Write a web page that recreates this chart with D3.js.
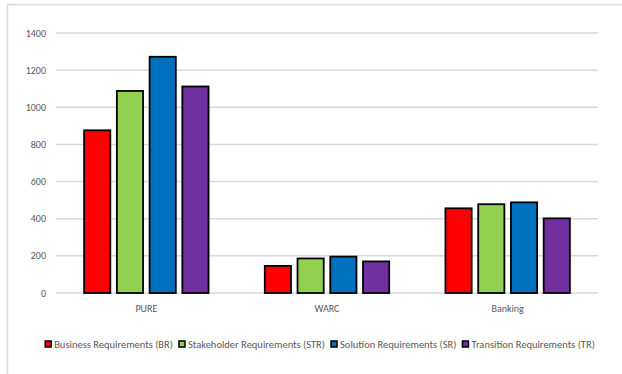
<!DOCTYPE html>
<html>
<head>
<meta charset="utf-8">
<script src="https://cdn.jsdelivr.net/npm/d3@7"></script>
<style>
  body { margin: 0; background: #fff; }
  text { font-family: Calibri, Carlito, "Liberation Sans", Arial, sans-serif; fill: #595959; }
</style>
</head>
<body>
<div id="chart"></div>
<script>
var categories = ["PURE", "WARC", "Banking"];
var seriesNames = ["Business Requirements (BR)", "Stakeholder Requirements (STR)", "Solution Requirements (SR)", "Transition Requirements (TR)"];
var seriesColors = ["#ff0000", "#92d050", "#0070c0", "#7030a0"];
var brValues = [876, 146, 456];
var strValues = [1088, 186, 478];
var srValues = [1272, 196, 488];
var trValues = [1112, 170, 402];
var yTicks = [0, 200, 400, 600, 800, 1000, 1200, 1400];

var allValues = [brValues, strValues, srValues, trValues];

var width = 622, height = 374;
var plotLeft = 56, plotRight = 598, plotTop = 33, plotBottom = 293;

var svg = d3.select("#chart").append("svg")
  .attr("width", width)
  .attr("height", height);

// chart area border (top + left only visible)
svg.append("line").attr("x1", 7).attr("x2", width).attr("y1", 4.5).attr("y2", 4.5)
  .attr("stroke", "#d9d9d9").attr("stroke-width", 1.5);
svg.append("line").attr("x1", 7.5).attr("x2", 7.5).attr("y1", 4).attr("y2", height)
  .attr("stroke", "#d9d9d9").attr("stroke-width", 1.5);

var y = d3.scaleLinear().domain([0, 1400]).range([plotBottom, plotTop]);

var x0 = d3.scaleBand().domain(categories).range([plotLeft, plotRight])
  .paddingInner(0.275).paddingOuter(0.1375);
var x1 = d3.scaleBand().domain(d3.range(seriesNames.length)).range([0, x0.bandwidth()])
  .paddingInner(0.2).paddingOuter(0.1);

// gridlines
svg.append("g").selectAll("line").data(yTicks).enter().append("line")
  .attr("x1", plotLeft).attr("x2", plotRight)
  .attr("y1", d => y(d)).attr("y2", d => y(d))
  .attr("stroke", "#d9d9d9").attr("stroke-width", 1.5);

// y labels
svg.append("g").selectAll("text").data(yTicks).enter().append("text")
  .attr("x", 46).attr("y", d => y(d)).attr("dy", "0.35em")
  .attr("text-anchor", "end").style("font-size", "10px")
  .text(d => d);

// bars
var groups = svg.append("g").selectAll("g").data(categories).enter().append("g")
  .attr("transform", d => "translate(" + x0(d) + ",0)");

groups.selectAll("rect")
  .data((c, ci) => allValues.map((vals, si) => ({ s: si, v: vals[ci] })))
  .enter().append("rect")
  .attr("x", d => x1(d.s))
  .attr("y", d => y(d.v))
  .attr("width", x1.bandwidth())
  .attr("height", d => y(0) - y(d.v))
  .attr("fill", d => seriesColors[d.s])
  .attr("stroke", "#000").attr("stroke-width", 1.8);

// category labels
svg.append("g").selectAll("text").data(categories).enter().append("text")
  .attr("x", d => x0(d) + x0.bandwidth() / 2).attr("y", 308).attr("dy", "0.35em")
  .attr("text-anchor", "middle").style("font-size", "10px")
  .text(d => d);

// legend
var legend = svg.append("g");
var items = legend.selectAll("g").data(seriesNames).enter().append("g");
items.append("rect")
  .attr("width", 6).attr("height", 6).attr("y", -3)
  .attr("fill", (d, i) => seriesColors[i])
  .attr("stroke", "#000").attr("stroke-width", 1.5);
items.append("text")
  .attr("x", 9).attr("dy", "0.35em").style("font-size", "10.5px")
  .text(d => d);
var lx = 0;
items.each(function () {
  d3.select(this).attr("transform", "translate(" + lx + ",0)");
  lx += this.getBBox().width + 6;
});
var legendW = lx - 6;
legend.attr("transform", "translate(" + (320 - legendW / 2) + ",344)");
</script>
</body>
</html>
